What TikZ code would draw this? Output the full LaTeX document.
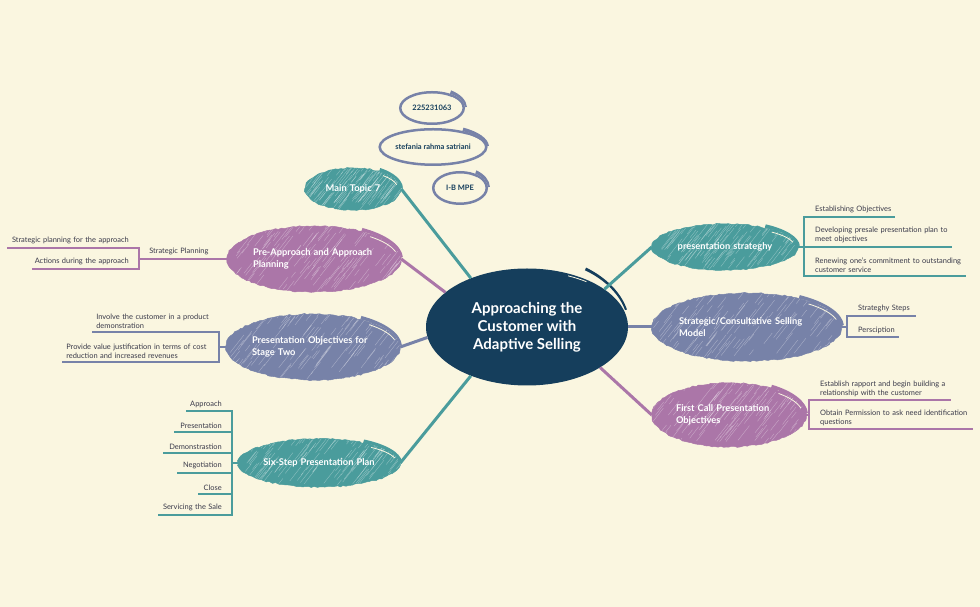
\documentclass[tikz,border=0pt]{standalone}
\usepackage{fontspec}
\setmainfont{Lato}
\usetikzlibrary{shapes.geometric,decorations.pathmorphing,calc}

\definecolor{pagebg}{HTML}{FAF6E0}
\definecolor{navy}{HTML}{153E5C}
\definecolor{teal}{HTML}{4A9C9C}
\definecolor{plum}{HTML}{AB76A8}
\definecolor{slate}{HTML}{7782A8}
\definecolor{ink}{HTML}{3A3A4A}

\tikzset{
    scribble/.style n args={4}{ellipse, fill=#1, draw=#1, line width=.5pt, inner sep=-12pt,
        minimum width=#2*2pt, minimum height=#3*2pt, text width=#4pt, align=left,
        text=white, font=\fontsize{9.3}{12}\selectfont\bfseries,
        decorate, decoration={random steps, segment length=3pt, amplitude=.7pt},
        path picture={
            \foreach \i in {1,...,130}{
                \pgfmathsetmacro{\hx}{rand*#2}
                \pgfmathsetmacro{\hy}{rand*#3}
                \pgfmathsetmacro{\hl}{6+rnd*20}
                \draw[white, opacity=.38, line width=.35pt]
                    ($(path picture bounding box.center)+(\hx pt,\hy pt)$) -- ++(52:\hl pt);
            }
        }},
    ring/.style n args={2}{ellipse, draw=slate, line width=2.5pt, inner sep=0pt,
        minimum width=#1*2pt-2.5pt, minimum height=#2*2pt-2.5pt,
        text=navy, font=\fontsize{7.5}{9}\selectfont\bfseries},
    spoke/.style={line width=3pt},
    branch/.style={line width=1.1pt},
    leaf/.style={inner xsep=0pt, inner ysep=3.5pt, text=ink, text width=#1pt,
        font=\fontsize{7.45}{9}\selectfont},
    leafright/.style={leaf=#1, align=left, execute at begin node={\leftskip=11pt}},
    leafleft/.style={leaf=#1, align=right, execute at begin node={\rightskip=10pt}},
    leafblock/.style={leaf=#1, align=left, execute at begin node={\leftskip=4.5pt}},
}

\newcommand{\ovalstroke}[4]{
    \fill[#4] ($(#1.center)+(57:{#2+2} and {#3+4})$)
        arc[start angle=57, end angle=3, x radius=#2+2, y radius=#3+4]
        -- ($(#1.center)+(3:#2 and #3)$)
        arc[start angle=3, end angle=57, x radius=#2, y radius=#3] -- cycle;
    \draw[pagebg, line width=.8pt] ($(#1.center)+(48:{#2-3} and {#3-3})$)
        arc[start angle=48, end angle=14, x radius=#2-3, y radius=#3-3];
}

\begin{document}
\begin{tikzpicture}[x=1pt, y=1pt]
    \pgfmathsetseed{42}
    \path[use as bounding box, fill=pagebg] (0,0) rectangle (980,607);

    \node[ellipse, fill=navy, inner sep=0pt, minimum width=202pt, minimum height=117pt, align=center,
        text=white, font=\fontsize{15}{18}\selectfont\bfseries] (root) at (527,280)
        {Approaching the\\Customer with\\Adaptive Selling};

    \node[scribble={teal}{48}{21}{60}, align=center] (maintopic) at (353,418) {Main Topic 7};
    \node[scribble={plum}{87}{33}{122}] (preapproach) at (314,348) {Pre-Approach and Approach\\Planning};
    \node[scribble={slate}{87}{33}{122}] (objectives) at (313,260) {Presentation Objectives for\\Stage Two};
    \node[scribble={teal}{81}{24}{122}, align=center] (sixstep) at (319,144) {Six-Step Presentation Plan};
    \node[scribble={teal}{73}{23}{106}, align=center] (strategy) at (725,360) {presentation strateghy};
    \node[scribble={slate}{95}{34}{136}] (selling) at (747,280) {Strategic/Consultative Selling\\Model};
    \node[scribble={plum}{77}{32}{106}] (firstcall) at (729,192) {First Call Presentation\\Objectives};

    \node[ring={33}{17}] (idnumber) at (432,499) {225231063};
    \node[ring={54}{19}] (student) at (433,460) {stefania rahma satriani};
    \node[ring={28}{17}] (classname) at (460,419) {I-B MPE};

    \foreach \nm/\rx/\ry/\col in {maintopic/48/21/teal, preapproach/87/33/plum, objectives/87/33/slate,
        sixstep/81/24/teal, strategy/73/23/teal, selling/95/34/slate, firstcall/77/32/plum,
        idnumber/33/17/slate, student/54/19/slate, classname/28/17/slate}{
        \ovalstroke{\nm}{\rx}{\ry}{\col}
    }

    \fill[navy] ($(root.center)+(55:103 and 72.5)$) arc[start angle=55, end angle=14, x radius=103, y radius=72.5]
        -- ($(root.center)+(14:101 and 70)$) arc[start angle=14, end angle=55, x radius=101, y radius=69] -- cycle;
    \draw[pagebg, line width=.8pt] ($(root.center)+(66:101 and 56)$) arc[start angle=66, end angle=54, x radius=101, y radius=56];

    \draw[spoke, teal] (maintopic.east) -- (root.139);
    \draw[spoke, plum] (preapproach.east) -- (root.157);
    \draw[spoke, slate] (objectives.east) -- (root.186);
    \draw[spoke, teal] (sixstep.east) -- (root.221);
    \draw[spoke, teal] (strategy.west) -- (root.26);
    \draw[spoke, slate] (selling.west) -- (root.east);
    \draw[spoke, plum] (firstcall.west) -- (root.331);

    \node[leafblock=82, anchor=south east] (planning) at (227,348) {Strategic Planning};
    \node[leafleft=132, anchor=south east] (planfor) at (139,359) {Strategic planning for the approach};
    \node[leafleft=107, anchor=south east] (during) at (139,338) {Actions during the approach};

    \node[leafblock=127, anchor=south east] (involve) at (219,275) {Involve the customer in a product\\demonstration};
    \node[leafblock=157, anchor=south east] (justify) at (219,245) {Provide value justification in terms of cost\\reduction and increased revenues};

    \foreach \nm/\ypos/\wid/\txt in {six1/196/46/Approach, six2/175/58/Presentation, six3/154/69/Demonstrastion,
        six4/134/55/Negotiation, six5/113/34/Close, six6/92/74/Servicing the Sale}{
        \node[leafleft=\wid, anchor=south east] (\nm) at (232,\ypos) {\txt};
    }

    \node[leafright=91, anchor=south west] (establish) at (804,390) {Establishing Objectives};
    \node[leafright=148, anchor=south west] (develop) at (804,360) {Developing presale presentation plan to\\meet objectives};
    \node[leafright=162, anchor=south west] (renew) at (804,331) {Renewing one's commitment to outstanding\\customer service};

    \node[leafright=69, anchor=south west] (steps) at (847,291) {Strateghy Steps};
    \node[leafright=52, anchor=south west] (persc) at (847,270) {Persciption};

    \node[leafright=142, anchor=south west] (rapport) at (809,207) {Establish rapport and begin building a\\relationship with the customer};
    \node[leafright=164, anchor=south west] (permission) at (809,178) {Obtain Permission to ask need identification\\questions};

    \draw[branch, plum] (preapproach.west) -- (planning.south east) -- (planning.south west);
    \foreach \lf in {planfor, during}{
        \draw[branch, plum] (planning.south west) -- (planning.south west -| \lf.south east) -- (\lf.south east) -- (\lf.south west);
    }
    \foreach \lf in {involve, justify}{
        \draw[branch, slate] (objectives.west) -- (objectives.west -| \lf.south east) -- (\lf.south east) -- (\lf.south west);
    }
    \foreach \lf in {six1, six2, six3, six4, six5, six6}{
        \draw[branch, teal] (sixstep.west) -- (sixstep.west -| \lf.south east) -- (\lf.south east) -- (\lf.south west);
    }
    \foreach \lf in {establish, develop, renew}{
        \draw[branch, teal] (strategy.east) -- (strategy.east -| \lf.south west) -- (\lf.south west) -- (\lf.south east);
    }
    \foreach \lf in {steps, persc}{
        \draw[branch, slate] (selling.east) -- (selling.east -| \lf.south west) -- (\lf.south west) -- (\lf.south east);
    }
    \foreach \lf in {rapport, permission}{
        \draw[branch, plum] (firstcall.east) -- (firstcall.east -| \lf.south west) -- (\lf.south west) -- (\lf.south east);
    }
\end{tikzpicture}
\end{document}
